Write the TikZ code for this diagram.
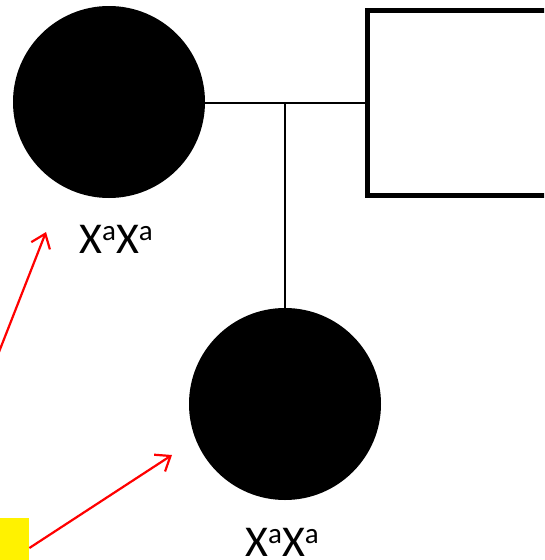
\documentclass[tikz,border=0pt]{standalone}
\usepackage{fontspec}
\setmainfont{Carlito}
\usetikzlibrary{arrows.meta}
\newcommand{\gsup}{\raisebox{13pt}{\fontsize{29}{29}\selectfont a}}
\begin{document}
\begin{tikzpicture}[x=1pt,y=-1pt,
  female/.style={circle,fill=black,draw=none,minimum size=192pt,inner sep=0pt},
  male/.style={rectangle,draw=black,line width=5pt,fill=white,minimum width=200pt,minimum height=185pt,inner sep=0pt},
  geno/.style={font=\fontsize{44}{44}\selectfont,inner sep=0pt,anchor=base},
  rel/.style={line width=2pt,black},
  pointer/.style={red,line width=2.2pt,-{Straight Barb[length=13pt,width=20pt,line width=2.2pt]}},
  hl/.style={fill=yellow,draw=none,minimum width=29pt,minimum height=60pt,inner sep=0pt,anchor=north west}]
\clip (0,0) rectangle (544,560);
\fill[white] (0,0) rectangle (544,560);
\node[female] (mother) at (109,102) {};
\node[male] (father) at (467.5,102.5) {};
\node[female] (daughter) at (285,404) {};
\coordinate (mid) at (285,102.5);
\draw[rel] (mother.east |- mid) -- (father.west |- mid);
\draw[rel] (mid) -- (daughter.north);
\node[geno] (g1) at (116,253) {X\gsup X\gsup};
\node[geno] (g2) at (282,556) {X\gsup X\gsup};
\node[hl] (mark) at (0,518) {};
\coordinate (src1) at (-12,380);
\coordinate (tip1) at (46,232);
\coordinate (tip2) at (172,455);
\draw[pointer] (src1) -- (tip1);
\draw[pointer] (mark.east |- 0,548) -- (tip2);
\end{tikzpicture}
\end{document}
